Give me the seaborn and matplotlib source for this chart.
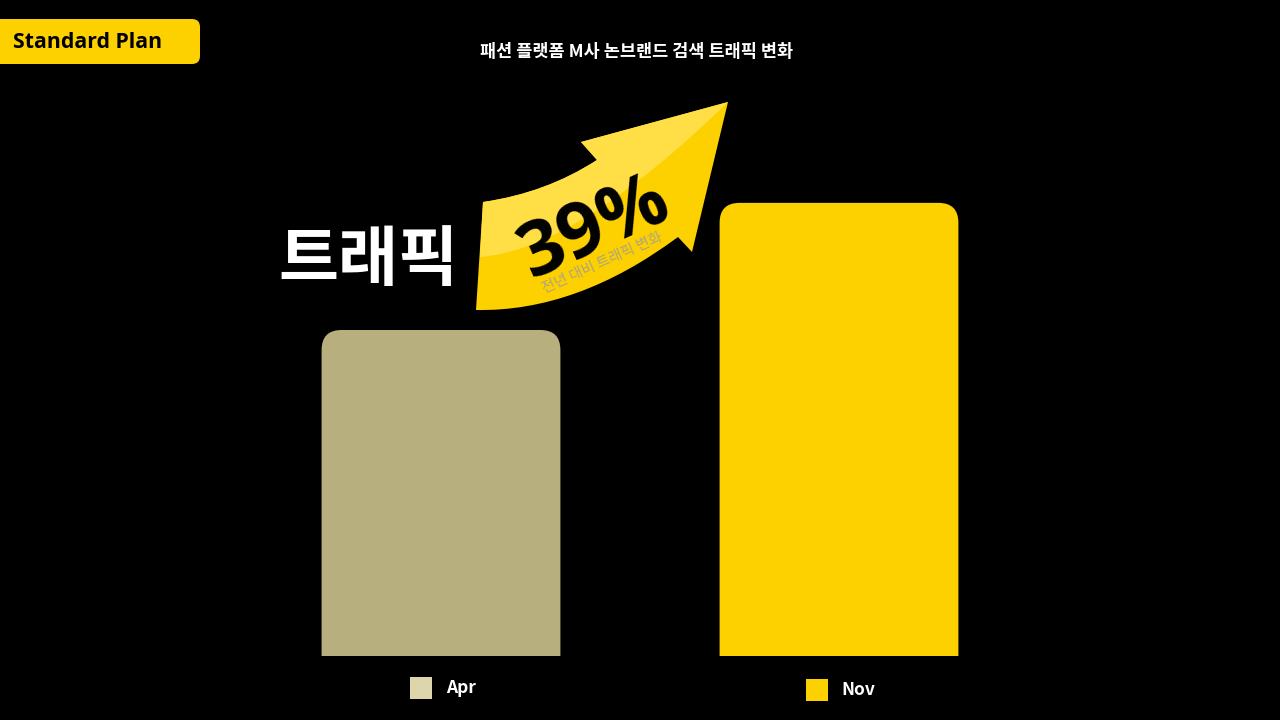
import matplotlib
matplotlib.use("Agg")
import matplotlib.pyplot as plt
import seaborn as sns
import pandas as pd
from matplotlib.path import Path
from matplotlib.patches import PathPatch, FancyBboxPatch, Rectangle
from matplotlib.transforms import Affine2D, IdentityTransform

months = ["Apr", "Nov"]
traffic = [100, 139]
bar_colors = ["#b8af7e", "#fdd000"]
swatch_colors = ["#ddd6ac", "#fdd000"]
change_label = "39%"
change_note = "전년 대비 트래픽 변화"
title = "패션 플랫폼 M사 논브랜드 검색 트래픽 변화"
badge = "Standard Plan"
big_word = "트래픽"

sns.set_style("dark")
plt.rcParams["font.family"] = ["Noto Sans CJK KR", "Noto Sans", "DejaVu Sans"]

W, H = 1280, 720
fig = plt.figure(figsize=(W / 100, H / 100), dpi=100, facecolor="black")
# pixel coords, origin top-left
px = Affine2D().scale(1 / W, -1 / H).translate(0, 1) + fig.transFigure

ax = fig.add_axes([242 / W, 64 / H, 796 / W, 489 / H])
ax.set_facecolor("black")
df = pd.DataFrame({"month": months, "traffic": traffic})
sns.barplot(data=df, x="month", y="traffic", hue="month", palette=bar_colors,
            legend=False, width=0.6, saturation=1, ax=ax)
ax.set_xlim(-0.5, 1.5)
ax.set_ylim(0, 150)
ax.axis("off")

# rounded tops for the bars
r = 20
for p in ax.patches:
    p.set_visible(False)
    (x0, y0), (x1, y1) = ax.transData.transform(
        [(p.get_x(), p.get_y()), (p.get_x() + p.get_width(), p.get_y() + p.get_height())])
    verts = [(x0, y0), (x0, y1 - r), (x0, y1), (x0 + r, y1), (x1 - r, y1),
             (x1, y1), (x1, y1 - r), (x1, y0), (x0, y0)]
    codes = [Path.MOVETO, Path.LINETO, Path.CURVE3, Path.CURVE3, Path.LINETO,
             Path.CURVE3, Path.CURVE3, Path.LINETO, Path.CLOSEPOLY]
    fig.add_artist(PathPatch(Path(verts, codes), facecolor=p.get_facecolor(),
                             edgecolor="none", transform=IdentityTransform()))

# legend-like labels under the bars
for i, m in enumerate(months):
    cx = ax.transData.transform((i, 0))[0]
    yy = 688 + 2 * i
    fig.add_artist(Rectangle((cx - 31 - 2 * i, yy - 11), 22, 22, facecolor=swatch_colors[i],
                             edgecolor="none", transform=px))
    fig.text(cx + 5 - 3 * i, yy, m, transform=px, color="white", fontsize=12.5,
             fontweight="bold", va="center", ha="left")

# badge
fig.add_artist(FancyBboxPatch((-20, 19), 220, 45, boxstyle="round,pad=0,rounding_size=8",
                              facecolor="#fdd000", edgecolor="none", transform=px))
fig.text(13, 43, badge, transform=px, color="black", fontsize=15.3,
         fontweight="bold", va="center", ha="left", family=["Open Sans", "DejaVu Sans"])

fig.text(637, 52, title, transform=px, color="white", fontsize=12.6,
         fontweight="bold", va="center", ha="center")
fig.text(368, 260, big_word, transform=px, color="white", fontsize=47,
         fontweight="bold", va="center", ha="center")

# growth arrow
arrow = Path(
    [(476, 310), (483, 202), (546, 193), (597, 160), (581, 142), (728, 102),
     (692, 252), (678, 237), (577, 312), (476, 310), (476, 310)],
    [Path.MOVETO, Path.LINETO, Path.CURVE3, Path.CURVE3, Path.LINETO, Path.LINETO,
     Path.LINETO, Path.LINETO, Path.CURVE3, Path.CURVE3, Path.CLOSEPOLY])
fig.add_artist(PathPatch(arrow, facecolor="#fdd000", edgecolor="none", transform=px))
shine = Path(
    [(480, 257), (483, 202), (546, 193), (597, 160), (581, 142), (728, 102),
     (576, 250), (480, 257), (480, 257)],
    [Path.MOVETO, Path.LINETO, Path.CURVE3, Path.CURVE3, Path.LINETO, Path.LINETO,
     Path.CURVE3, Path.CURVE3, Path.CLOSEPOLY])
fig.add_artist(PathPatch(shine, facecolor="#ffdf45", edgecolor="none", transform=px))

fig.text(594, 229, change_label, transform=px, color="black", fontsize=55,
         fontweight="bold", rotation=24, va="center", ha="center",
         rotation_mode="anchor", family=["Open Sans", "DejaVu Sans"])
fig.text(602, 263, change_note, transform=px, color="#b0a57f", fontsize=10.5,
         rotation=24, va="center", ha="center", rotation_mode="anchor")

fig.savefig("out.png", dpi=100, facecolor="black")
